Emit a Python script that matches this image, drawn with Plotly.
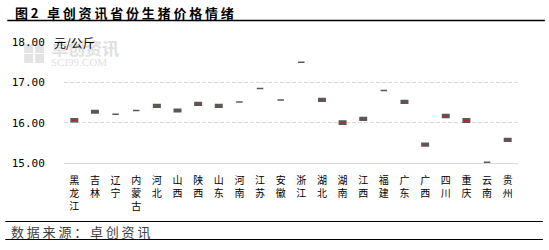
import plotly.graph_objects as go

provinces = ["黑龙江", "吉林", "辽宁", "内蒙古", "河北", "山西", "陕西", "山东", "河南", "江苏", "安徽",
             "浙江", "湖北", "湖南", "江西", "福建", "广东", "广西", "四川", "重庆", "云南", "贵州"]
price_low = [16.02, 16.24, 16.21, 16.30, 16.38, 16.27, 16.43, 16.38, 16.51, 16.85, 16.56,
             17.50, 16.53, 15.96, 16.06, 16.80, 16.48, 15.42, 16.13, 16.01, 15.02, 15.54]
price_high = [16.10, 16.30, 16.21, 16.30, 16.45, 16.33, 16.50, 16.45, 16.51, 16.85, 16.56,
              17.50, 16.60, 16.04, 16.13, 16.80, 16.55, 15.49, 16.20, 16.10, 15.02, 15.61]
y_ticks = [15, 16, 17, 18]
y_tick_text = ["15.00", "16.00", "17.00", "18.00"]

vertical_labels = ["<br>".join(list(p)) for p in provinces]

L, R, T, B = 62, 31, 42, 87
W, H = 549, 250
PW, PH = W - L - R, H - T - B


def xp(px):
    return (px - L) / PW


def yp(py):
    return (H - B - py) / PH


fig = go.Figure()
fig.add_trace(go.Candlestick(
    x=vertical_labels,
    open=price_low, close=price_high, high=price_high, low=price_low,
    increasing=dict(fillcolor="#ff0000", line=dict(color="#595959", width=1.5)),
    decreasing=dict(fillcolor="#ff0000", line=dict(color="#595959", width=1.5)),
    whiskerwidth=0,
    showlegend=False,
    hoverinfo="x+y",
))

annotations = [
    dict(text="卓创资讯", xref="paper", yref="paper",
         x=xp(47), y=yp(48), xanchor="left", yanchor="middle", showarrow=False,
         font=dict(family="Noto Sans CJK SC", size=17, color="#e0e0e0", weight="bold")),
    dict(text="SCI99.COM", xref="paper", yref="paper",
         x=xp(47), y=yp(62), xanchor="left", yanchor="middle", showarrow=False,
         font=dict(family="Liberation Serif", size=11, color="#e0e0e0")),
    dict(text="<span style='letter-spacing:2.8px'>图2 卓创资讯省份生猪价格情绪</span>",
         xref="paper", yref="paper",
         x=xp(11), y=yp(13), xanchor="left", yanchor="middle", showarrow=False,
         font=dict(family="Noto Sans CJK SC", size=13, color="#000000", weight="bold")),
    dict(text="<span style='letter-spacing:2.8px'>数据来源：卓创资讯</span>",
         xref="paper", yref="paper",
         x=xp(7), y=yp(231), xanchor="left", yanchor="middle", showarrow=False,
         font=dict(family="Noto Sans CJK SC", size=13, color="#404040")),
    dict(text="元/公斤", xref="paper", yref="y",
         x=xp(50), y=18, xanchor="left", yanchor="middle", showarrow=False,
         font=dict(family="Noto Sans CJK SC", size=12, color="#000000")),
]

shapes = [
    dict(type="line", xref="paper", yref="paper", x0=xp(5), x1=xp(545), y0=yp(20.5), y1=yp(20.5),
         line=dict(color="#000000", width=1.3)),
    dict(type="line", xref="paper", yref="paper", x0=xp(3), x1=xp(543), y0=yp(221.5), y1=yp(221.5),
         line=dict(color="#000000", width=1)),
    dict(type="line", xref="paper", yref="paper", x0=xp(3), x1=xp(543), y0=yp(239.5), y1=yp(239.5),
         line=dict(color="#000000", width=1)),
]
# watermark logo squares
for (sx, sy) in [(22, 44), (33, 44), (22, 54), (33, 54)]:
    shapes.append(dict(type="rect", xref="paper", yref="paper", x0=xp(sx), x1=xp(sx + 9),
                       y0=yp(sy + 9), y1=yp(sy), fillcolor="#e3e3e3", line=dict(width=0),
                       layer="below"))

fig.update_layout(
    width=W, height=H,
    margin=dict(l=L, r=R, t=T, b=B, pad=0),
    paper_bgcolor="#ffffff", plot_bgcolor="#ffffff",
    boxgap=0.55,
    annotations=annotations,
    shapes=shapes,
    xaxis=dict(
        type="category", rangeslider=dict(visible=False),
        showgrid=False, showline=True, linecolor="#d9d9d9", linewidth=1,
        ticks="outside", ticklen=8, tickcolor="rgba(0,0,0,0)",
        tickfont=dict(family="Noto Sans CJK SC", size=10, color="#000000"),
        tickangle=0, fixedrange=True,
    ),
    yaxis=dict(
        range=[15, 18], tickvals=y_ticks, ticktext=y_tick_text,
        showgrid=True, gridcolor="#d9d9d9", griddash="4px,2px", gridwidth=1,
        zeroline=False, showline=False,
        ticks="outside", ticklen=16, tickcolor="rgba(0,0,0,0)",
        tickfont=dict(family="DejaVu Sans Mono", size=11, color="#000000"),
        fixedrange=True,
    ),
)

fig.write_html("out.html")
